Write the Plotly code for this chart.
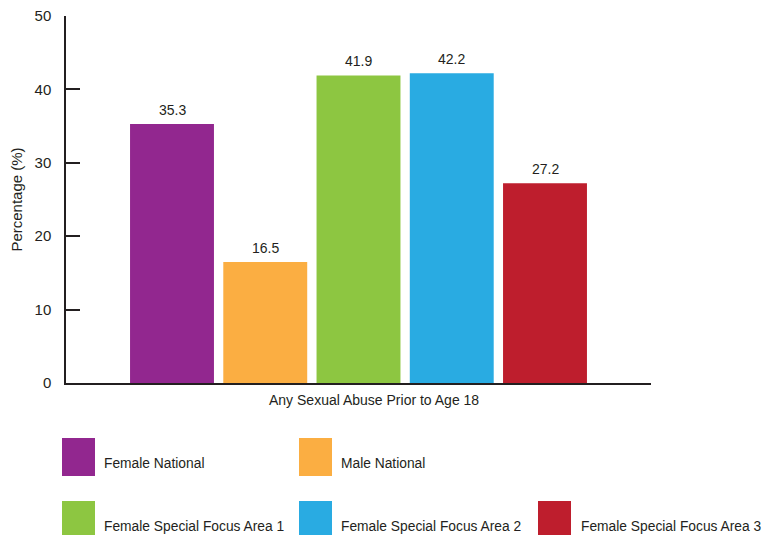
import plotly.graph_objects as go

category = ["Any Sexual Abuse Prior to Age 18"]
series_names = ["Female National", "Male National", "Female Special Focus Area 1",
                "Female Special Focus Area 2", "Female Special Focus Area 3"]
values = [35.3, 16.5, 41.9, 42.2, 27.2]
colors = ["#92278F", "#FBAE42", "#8DC641", "#29ABE2", "#BE1E2D"]
y_ticks = [0, 10, 20, 30, 40, 50]

W, H = 764, 535
ML, MR, MT, MB = 66, 113, 16, 152
PW, PH = W - ML - MR, H - MT - MB
BARGAP, GROUPGAP = 0.203, 0.1

def px_x(p):
    return (p - ML) / PW

def px_y(p):
    return (H - MB - p) / PH

FONT = "Liberation Sans, Arial, sans-serif"
TXT = "#231F20"

fig = go.Figure()
n = len(series_names)
slot = (1 - BARGAP) / n
for i, (name, v, c) in enumerate(zip(series_names, values, colors)):
    fig.add_trace(go.Bar(
        x=category, y=[v], name=name, marker=dict(color=c, line=dict(width=0)),
        showlegend=False, hoverinfo="x+y+name",
    ))
    # value label above bar (category index 0 + group offset)
    xc = -(1 - BARGAP) / 2 + slot * (i + 0.5)
    fig.add_annotation(x=xc, y=v, xref="x", yref="y", text=f"{v:.1f}",
                       showarrow=False, yanchor="bottom", yshift=4,
                       font=dict(size=14, color=TXT, family=FONT))

# category label
fig.add_annotation(x=0, y=px_y(400), xref="x", yref="paper", text=category[0],
                   showarrow=False, xshift=15, yanchor="middle",
                   font=dict(size=14, color=TXT, family=FONT))

# legend drawn as large swatches
cols_px = [(62, 102), (299, 339), (538, 579)]
rows_px = [(438, 476, 463), (501, 538, 526)]
slots = [(0, 0), (0, 1), (1, 0), (1, 1), (1, 2)]
for (r, c), name, col in zip(slots, series_names, colors):
    sx, tx = cols_px[c]
    top, bot, ty = rows_px[r]
    fig.add_shape(type="rect", xref="paper", yref="paper",
                  x0=px_x(sx), x1=px_x(sx + 33), y0=px_y(bot), y1=px_y(top),
                  fillcolor=col, line=dict(width=0), layer="above")
    fig.add_annotation(xref="paper", yref="paper", x=px_x(tx), y=px_y(ty),
                       text=name, showarrow=False, xanchor="left", yanchor="middle",
                       font=dict(size=13.8, color=TXT, family=FONT))

fig.update_layout(
    width=W, height=H,
    margin=dict(l=ML, r=MR, t=MT, b=MB, autoexpand=False),
    paper_bgcolor="white", plot_bgcolor="white",
    barmode="group", bargap=BARGAP, bargroupgap=GROUPGAP,
    font=dict(family=FONT, color=TXT),
    showlegend=False,
)
fig.update_yaxes(
    range=[0, 50], tickvals=y_ticks, showgrid=False, zeroline=False,
    showline=True, linecolor="#231F20", linewidth=1.5, automargin=False,
    ticks="inside", ticklen=14, tickwidth=1.5, tickcolor="#231F20",
    tickfont=dict(size=15, color=TXT, family=FONT),
    title=dict(text="Percentage (%)", font=dict(size=15, color=TXT, family=FONT), standoff=8),
    ticklabelstandoff=10,
)
fig.update_xaxes(
    showgrid=False, showline=True, linecolor="#231F20", linewidth=1.5, automargin=False,
    ticks="inside", ticklen=9, tickwidth=1.5, tickcolor="#231F20", tickson="boundaries",
    showticklabels=False, range=[-0.5, 0.5],
)

fig.write_html("out.html")
